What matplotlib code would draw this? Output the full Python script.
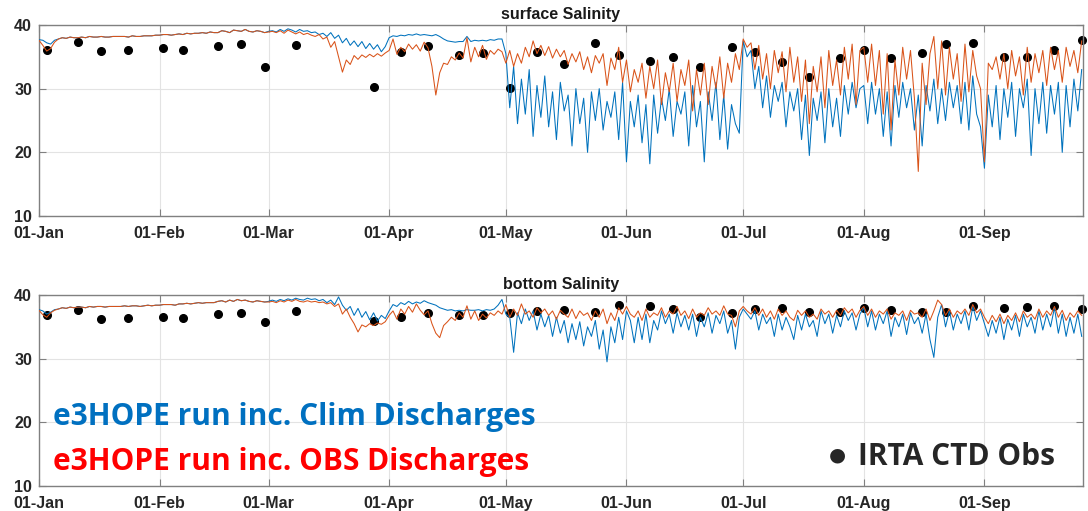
import numpy as np
import matplotlib
matplotlib.use("Agg")
import matplotlib.pyplot as plt
import matplotlib.dates as mdates

# day-of-year index (0 = 01-Jan), daily model values
start = np.datetime64("2019-01-01")

# ---- surface, run with climatological discharges (blue)
surf_clim = [
    37.7, 37.6, 37.2, 37.0, 37.6,
    37.8, 38.0, 37.9, 38.1, 38.0, 38.0, 38.1, 38.0, 38.2, 38.1, 38.1, 38.2, 38.1,
    38.1, 38.2, 38.2, 38.2, 38.2, 38.1, 38.3, 38.2, 38.2, 38.3, 38.3, 38.3, 38.4,
    # Feb
    38.4, 38.5, 38.5, 38.4, 38.5, 38.6, 38.5, 38.7, 38.6, 38.7, 38.7, 38.8, 38.7, 38.9,
    38.8, 38.8, 39.1, 39.0, 38.8, 39.2, 39.1, 39.0, 39.3, 39.0, 38.9, 39.1, 39.0, 38.8,
    # Mar
    39.0, 39.1, 38.9, 39.3, 39.0, 39.4, 39.2, 38.9, 39.3, 39.0, 39.1,
    38.8, 38.9, 38.5, 38.7, 38.2, 38.8, 37.9, 38.4, 37.2, 37.9, 36.8,
    37.5, 36.6, 37.4, 36.3, 37.1, 36.2, 36.9, 35.8, 36.6,
    # Apr
    38.0, 38.3, 38.2, 38.4, 38.3, 38.5, 38.4, 38.6, 38.4, 38.5, 38.4, 38.3, 38.5, 38.2,
    37.8, 37.5, 37.4, 37.3, 37.4, 37.4, 38.2, 37.4, 37.6, 37.5, 37.6, 37.5, 37.7, 37.6, 37.8, 37.8,
    # May
    35.5, 27.0, 33.5, 24.5, 31.5, 26.0, 33.0, 22.5, 30.5, 25.5, 32.0, 24.0, 29.5, 22.0,
    31.0, 26.5, 29.0, 21.0, 30.0, 24.5, 28.5, 20.0, 29.5, 25.0, 30.0, 23.5, 28.0, 25.5,
    29.5, 22.0, 31.0,
    # Jun
    18.5, 28.0, 24.0, 29.0, 21.5, 27.5, 18.2, 29.0, 23.0, 28.5, 25.0, 30.0, 22.5, 28.0,
    26.0, 29.5, 21.0, 30.5, 24.0, 28.0, 18.5, 29.5, 25.0, 31.0, 22.0, 29.0, 20.5, 27.5,
    24.5, 23.0,
    # Jul
    37.5, 35.0, 36.0, 30.0, 33.5, 27.0, 32.0, 25.5, 30.5, 28.0, 31.0, 24.0, 29.5, 26.5,
    30.0, 22.0, 29.0, 19.5, 28.5, 25.0, 29.5, 21.5, 30.0, 24.0, 28.5, 22.5, 30.5, 26.0,
    31.0, 27.0, 30.0,
    # Aug
    30.5, 24.5, 31.0, 26.0, 30.0, 22.5, 29.5, 21.0, 30.5, 25.5, 31.0, 27.0, 30.0, 23.5,
    29.0, 21.0, 30.5, 26.5, 31.5, 24.5, 30.0, 25.0, 31.0, 27.0, 30.5, 24.5, 31.0, 23.5,
    32.0, 26.0, 24.0,
    # Sep
    17.5, 29.0, 24.0, 30.5, 22.0, 30.0, 25.5, 31.0, 22.5, 30.0, 27.0, 31.5, 19.5, 30.0,
    24.5, 31.0, 23.0, 30.5, 26.0, 31.0, 20.0, 30.5, 24.0, 31.5, 26.5, 33.0,
]

# ---- surface, run with observed discharges (orange)
surf_obs = [
    37.6, 36.8, 35.9, 36.3, 37.3,
    37.8, 38.0, 37.9, 38.1, 38.0, 38.0, 38.1, 38.0, 38.2, 38.1, 38.1, 38.2, 38.1,
    38.1, 38.2, 38.2, 38.2, 38.2, 38.1, 38.3, 38.2, 38.2, 38.3, 38.3, 38.3, 38.4,
    # Feb
    38.4, 38.5, 38.5, 38.4, 38.5, 38.6, 38.5, 38.7, 38.6, 38.7, 38.7, 38.8, 38.7, 38.9,
    38.8, 38.8, 39.1, 39.0, 38.8, 39.2, 39.1, 39.0, 39.3, 39.0, 38.9, 39.1, 39.0, 38.8,
    # Mar
    38.9, 39.0, 38.8, 39.1, 38.7, 39.2, 38.9, 38.6, 38.9, 38.5, 38.7,
    38.4, 38.2, 38.5, 37.8, 38.1, 36.5, 37.4, 35.0, 32.6, 34.5, 33.8,
    35.2, 34.6, 35.3, 34.9, 35.4, 35.0, 35.5, 35.1, 35.6,
    # Apr
    36.0, 37.8, 35.4, 36.5, 35.8, 37.0, 36.2, 36.9, 35.9, 37.3, 36.4, 33.5, 29.0, 32.5,
    34.0, 33.8, 35.0, 34.5, 35.6, 34.8, 38.0, 34.2, 36.5, 35.0, 36.8, 34.6, 36.0, 35.4,
    36.2, 35.8,
    # May
    34.0, 36.0, 33.5, 35.5, 34.0, 36.5, 35.0, 37.5, 35.5, 36.8, 35.2, 36.6, 34.8, 36.2,
    35.0, 36.0, 33.8, 35.5, 34.2, 35.8, 33.0, 35.0, 32.5, 35.2, 34.0, 35.5, 30.5, 34.8,
    33.0, 36.5, 31.0,
    # Jun
    34.5, 29.5, 33.0, 31.0, 34.0, 28.5, 33.5, 30.0, 34.5, 27.5, 32.5, 29.5, 34.0, 28.0,
    33.0, 30.5, 34.5, 26.5, 33.0, 29.0, 34.0, 27.5, 33.5, 30.0, 35.0, 28.5, 34.0, 31.0,
    35.5, 33.0,
    # Jul
    37.8, 36.5, 37.2, 33.0, 36.8, 31.5, 35.5, 30.0, 36.0, 32.5, 35.8, 29.5, 36.5, 31.0,
    35.0, 28.0, 34.5, 24.5, 33.5, 29.5, 35.0, 27.0, 36.0, 30.5, 34.5, 29.0, 36.5, 31.5,
    37.0, 27.5, 36.0,
    # Aug
    36.5, 31.0, 37.0, 30.5, 36.0, 26.0, 35.5, 23.5, 34.5, 29.0, 36.5, 31.5, 36.0, 28.5,
    17.0, 34.0, 27.5, 35.5, 38.2, 30.0, 37.5, 29.0, 36.5, 31.5, 35.5, 28.0, 37.0, 29.5,
    36.0, 32.0, 30.0,
    # Sep
    18.5, 34.0, 33.0, 35.0, 31.5, 35.5, 30.0, 36.0, 32.0, 35.0, 29.0, 36.5, 31.0, 35.5,
    32.5, 36.0, 30.5, 36.5, 33.0, 36.0, 31.0, 36.5, 33.5, 36.0, 32.5, 37.5,
]

# ---- bottom, clim discharges (blue)
bot_clim = [
    37.7, 37.5, 37.0, 37.3, 37.7,
    37.8, 38.0, 37.9, 38.1, 38.0, 38.1, 38.1, 38.0, 38.2, 38.1, 38.2, 38.2, 38.1,
    38.2, 38.2, 38.2, 38.2, 38.3, 38.2, 38.3, 38.3, 38.2, 38.3, 38.4, 38.3, 38.4,
    # Feb
    38.4, 38.5, 38.5, 38.5, 38.4, 38.6, 38.6, 38.7, 38.6, 38.7, 38.8, 38.7, 38.8, 38.8,
    38.8, 39.0, 39.1, 38.9, 39.2, 39.0, 39.3, 39.1, 39.2, 39.0, 38.9, 39.1, 39.0, 38.9,
    # Mar
    39.0, 39.2, 39.0, 39.3, 39.1, 39.4, 39.2, 39.5, 39.3, 39.2, 39.5,
    39.3, 39.4, 39.1, 39.3, 38.8, 39.2, 38.5, 39.7, 38.4, 37.6, 38.2,
    36.8, 37.9, 36.5, 37.4, 36.1, 37.2, 35.9, 36.8, 36.3,
    # Apr
    37.5, 38.5, 38.2, 38.8, 38.5, 39.0, 38.6, 38.9, 38.7, 39.1, 38.8, 38.6, 38.4, 38.0,
    37.8, 37.6, 37.7, 37.5, 37.6, 37.5, 37.7, 37.6, 37.6, 37.7, 37.5, 37.7, 37.6, 37.8,
    38.4, 39.3,
    # May
    37.0, 36.5, 31.0, 37.2, 35.5, 37.8, 36.0, 37.5, 34.5, 37.0, 35.0, 36.8, 33.5, 36.5,
    34.0, 36.0, 32.5, 35.5, 33.0, 35.8, 32.0, 35.0, 33.5, 36.0, 31.5, 34.5, 29.5, 35.0,
    32.5, 36.5, 33.0,
    # Jun
    37.5, 36.0, 32.5, 36.5, 33.0, 37.0, 32.5, 36.0, 34.5, 37.5, 35.5, 37.0, 34.0, 37.2,
    35.0, 36.8, 34.5, 37.0, 33.5, 36.5, 35.0, 37.2, 34.0, 36.8, 35.5, 37.5, 34.0, 36.0,
    31.5, 36.5,
    # Jul
    37.8, 37.0, 36.2, 37.5, 34.5, 37.0, 35.5, 36.5, 33.5, 37.0, 34.5, 36.5, 35.0, 33.0,
    36.8, 34.5, 37.0, 35.0, 36.0, 33.5, 37.5, 35.5, 37.0, 34.0, 36.8, 35.0, 37.5, 36.0,
    37.2, 34.5, 37.0,
    # Aug
    38.0, 35.0, 37.5, 34.5, 37.0, 35.5, 37.5, 33.5, 36.5, 35.0, 37.0, 33.8, 37.2, 35.5,
    36.5, 34.0, 37.0, 33.0, 30.2, 36.5, 38.5, 35.0, 37.5, 34.5, 37.0, 35.5, 37.5, 34.5,
    38.2, 36.0, 37.5,
    # Sep
    35.5, 33.5, 36.0, 34.0, 36.5, 33.0, 36.2, 34.5, 36.8, 33.5, 37.0, 35.0, 36.5, 34.0,
    37.5, 34.5, 37.0, 35.0, 38.0, 34.0, 37.0, 33.5, 36.5, 34.0, 37.0, 33.5,
]

# ---- bottom, obs discharges (orange)
bot_obs = [
    37.6, 36.9, 36.5, 37.2, 37.6,
    37.8, 38.0, 37.9, 38.1, 38.0, 38.1, 38.1, 38.0, 38.2, 38.1, 38.2, 38.2, 38.1,
    38.2, 38.2, 38.2, 38.2, 38.3, 38.2, 38.3, 38.3, 38.2, 38.3, 38.4, 38.3, 38.4,
    # Feb
    38.4, 38.5, 38.5, 38.5, 38.4, 38.6, 38.6, 38.7, 38.6, 38.7, 38.8, 38.7, 38.8, 38.8,
    38.8, 39.0, 39.1, 38.9, 39.2, 39.0, 39.3, 39.1, 39.2, 39.0, 38.9, 39.1, 39.0, 38.9,
    # Mar
    38.9, 39.0, 38.8, 39.1, 38.9, 39.2, 39.0, 39.3, 39.0, 38.9, 39.1,
    38.9, 39.0, 38.8, 38.9, 38.6, 38.8, 38.2, 38.6, 37.0, 37.8, 36.5,
    35.5, 34.2, 35.3, 35.0, 35.5, 35.2, 35.6, 35.4, 35.8,
    # Apr
    36.8, 37.5, 36.2, 37.8, 37.0, 38.2, 37.3, 38.6, 37.6, 36.9, 37.5, 35.5, 34.0, 33.3,
    35.2, 35.8, 36.5, 36.0, 37.2, 36.5, 38.3, 36.2, 37.5, 36.0, 37.0, 36.4, 37.2, 36.8,
    37.5, 37.0,
    # May
    38.5, 36.5, 37.8, 36.8, 38.6, 37.0, 37.5, 36.5, 38.0, 37.2, 37.8, 36.8, 37.5, 36.2,
    37.6, 37.0, 36.5, 37.8, 36.3, 37.5, 36.8, 37.2, 36.0, 37.5, 36.5, 37.8, 35.5, 37.2,
    36.0, 38.0, 37.0,
    # Jun
    38.2, 37.0, 36.5, 37.5, 36.0, 37.8, 36.5, 37.2, 36.8, 38.0, 36.5, 37.5, 37.0, 38.2,
    36.8, 37.5, 36.3, 37.8, 36.5, 37.2, 36.8, 38.0, 37.0, 37.5, 36.8, 38.3, 37.0, 36.8,
    35.0, 37.5,
    # Jul
    38.2, 37.5, 37.0, 38.0, 36.8, 37.8, 36.5, 37.5, 36.2, 37.8, 36.8, 37.5, 36.5, 36.0,
    37.6, 36.8, 37.5, 36.5, 37.0, 36.2, 37.8, 37.0, 37.5, 36.5, 37.6, 36.8, 38.0, 37.2,
    37.8, 36.5, 37.6,
    # Aug
    38.2, 36.8, 37.8, 36.5, 37.5, 37.0, 37.8, 36.2, 37.2, 36.8, 37.5, 36.0, 37.6, 37.0,
    37.2, 36.5, 37.8, 36.0, 37.5, 39.2, 38.5, 36.8, 37.8, 36.5, 37.5, 37.0, 37.8, 36.8,
    38.5, 37.2, 37.8,
    # Sep
    36.5, 35.5, 36.8, 35.8, 37.0, 35.5, 36.8, 36.0, 37.2, 35.8, 37.5, 36.5, 37.0, 36.2,
    37.8, 36.5, 37.5, 36.8, 38.2, 36.5, 37.6, 36.0, 37.2, 36.5, 37.5, 36.8,
]

# IRTA CTD observations (day of year) and values
obs_day = [2, 10, 16, 23, 32, 37, 46, 52, 58, 66, 86, 93, 100, 108, 114, 121, 128, 135,
           143, 149, 157, 163, 170, 178, 184, 191, 198, 206, 212, 219, 227, 233, 240,
           248, 254, 261, 268]
obs_surf = [36.0, 37.3, 35.9, 36.1, 36.4, 36.1, 36.7, 37.0, 33.4, 36.9, 30.3, 35.8, 36.7,
            35.3, 35.6, 30.1, 35.8, 33.8, 37.2, 35.3, 34.4, 35.0, 33.4, 36.5, 35.8, 34.2,
            31.8, 34.8, 36.1, 34.8, 35.6, 37.0, 37.2, 35.0, 35.0, 36.0, 37.6]
obs_bot = [36.9, 37.7, 36.2, 36.4, 36.6, 36.4, 37.0, 37.1, 35.8, 37.5, 35.9, 36.5, 37.2,
           36.8, 36.8, 37.1, 37.5, 37.7, 37.3, 38.4, 38.3, 37.8, 36.5, 37.2, 37.8, 37.9,
           37.3, 37.4, 37.9, 37.6, 37.3, 37.4, 38.2, 37.9, 38.1, 38.2, 37.8]

blue = '#0072BD'
orange = '#D95319'
month_ticks = ['2019-01-01', '2019-02-01', '2019-03-01', '2019-04-01', '2019-05-01',
               '2019-06-01', '2019-07-01', '2019-08-01', '2019-09-01']

fig = plt.figure(figsize=(10.88, 5.11), dpi=100)
ax1 = fig.add_axes([0.0358, 0.5773, 0.9596, 0.3738])
ax2 = fig.add_axes([0.0358, 0.0489, 0.9596, 0.3738])

panels = [(ax1, surf_clim, surf_obs, obs_surf, 'surface Salinity'),
          (ax2, bot_clim, bot_obs, obs_bot, 'bottom Salinity')]

for ax, clim, obs, ctd, title in panels:
    t = start + np.arange(len(clim)).astype('timedelta64[D]')
    td = start + np.array(obs_day).astype('timedelta64[D]')
    ax.plot(td, ctd, 'o', color='black', ms=5.5, zorder=2, clip_on=False)
    ax.plot(t, clim, color=blue, lw=0.75, zorder=3)
    ax.plot(t, obs, color=orange, lw=0.75, zorder=4)
    ax.set_ylim(10, 40)
    ax.set_yticks([10, 20, 30, 40])
    ax.set_xlim(start, start + np.timedelta64(6440, 'h'))
    ax.set_xticks([np.datetime64(d) for d in month_ticks])
    ax.xaxis.set_major_formatter(mdates.DateFormatter('%d-%b'))
    ax.grid(True, color='#e3e3e3', lw=0.8)
    ax.set_axisbelow(True)
    ax.tick_params(direction='in', length=5, top=True, right=True, colors='#808080',
                   labelcolor='#262626', labelsize=11.5)
    ax.tick_params(axis='x', pad=7)
    ax.tick_params(axis='y', pad=5)
    for lab in ax.get_xticklabels() + ax.get_yticklabels():
        lab.set_fontweight('bold')
        lab.set_family('Liberation Sans')
    for sp in ax.spines.values():
        sp.set_color('#808080')
        sp.set_linewidth(1.0)
    ax.set_title(title, fontsize=11.5, fontweight='bold', family='Liberation Sans',
                 color='#1a1a1a', pad=4)

ax2.text(0.0134, 0.319, 'e3HOPE run inc. Clim Discharges', transform=ax2.transAxes,
         color='#0070C0', fontsize=21.5, fontweight='bold', family='Open Sans', va='baseline')
ax2.text(0.0134, 0.084, 'e3HOPE run inc. OBS Discharges', transform=ax2.transAxes,
         color='#FF0000', fontsize=21.5, fontweight='bold', family='Open Sans', va='baseline')
ax2.text(0.765, 0.162, '\u25cf', transform=ax2.transAxes, color='#262626',
         fontsize=14, family='DejaVu Sans', ha='center', va='center')
ax2.text(0.7845, 0.110, 'IRTA CTD Obs', transform=ax2.transAxes, color='#262626',
         fontsize=21.5, fontweight='bold', family='Open Sans', va='baseline')

fig.savefig('out.png', dpi=100)
